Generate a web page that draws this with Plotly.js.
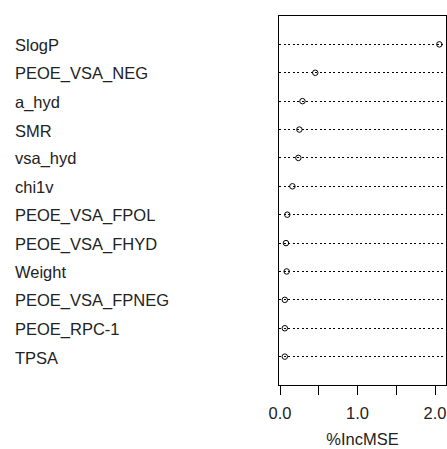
<!DOCTYPE html>
<html>
<head>
<meta charset="utf-8">
<script src="https://cdn.plot.ly/plotly-3.0.1.min.js"></script>
<style>html,body{margin:0;padding:0;background:#fff;}</style>
</head>
<body>
<div id="chart" style="width:447px;height:449px;"></div>
<script>
// Variables, top to bottom
const variables = ["SlogP","PEOE_VSA_NEG","a_hyd","SMR","vsa_hyd","chi1v","PEOE_VSA_FPOL","PEOE_VSA_FHYD","Weight","PEOE_VSA_FPNEG","PEOE_RPC-1","TPSA"];
const incMSE = [2.056, 0.455, 0.29, 0.25, 0.237, 0.16, 0.094, 0.077, 0.086, 0.062, 0.062, 0.062];
const tickValues = [0, 0.5, 1, 1.5, 2];
const tickLabels = ["0.0", "", "1.0", "", "2.0"];

const n = variables.length;
const rowPos = variables.map((_, i) => n - i);

const font = "Liberation Sans, Arial, sans-serif";

const trace = {
  x: incMSE,
  y: rowPos,
  mode: "markers",
  type: "scatter",
  marker: {symbol: "circle-open", size: 5.5, color: "#000", line: {width: 1, color: "#000"}},
  hoverinfo: "x+text",
  text: variables,
  showlegend: false
};

const annotations = variables.map((v, i) => ({
  text: v,
  xref: "paper", yref: "y",
  x: (13 - 279) / 167, y: rowPos[i],
  xanchor: "left", yanchor: "middle",
  yshift: -1,
  showarrow: false,
  font: {family: font, size: 16.5, color: "#222"}
}));

const layout = {
  width: 447, height: 449,
  margin: {l: 279, r: 1, t: 16, b: 64, pad: 0},
  paper_bgcolor: "#fff", plot_bgcolor: "#fff",
  xaxis: {
    range: [-0.013, 2.142],
    tickvals: tickValues, ticktext: tickLabels,
    ticks: "outside", ticklen: 9, tickcolor: "#000", tickwidth: 1,
    ticklabelstandoff: 4,
    showline: true, linecolor: "#000", linewidth: 1, mirror: true,
    showgrid: false, zeroline: false,
    tickfont: {family: font, size: 16.5, color: "#222"},
    title: {text: "%IncMSE", font: {family: font, size: 16.5, color: "#222"}, standoff: 12}
  },
  yaxis: {
    range: [0, n + 1],
    tickvals: rowPos, showticklabels: false, ticks: "",
    showgrid: true, gridcolor: "#000", gridwidth: 1, griddash: "2px,2.5px",
    showline: true, linecolor: "#000", linewidth: 1, mirror: true,
    zeroline: false
  },
  annotations: annotations
};

Plotly.newPlot("chart", [trace], layout, {displayModeBar: false, staticPlot: true});
</script>
</body>
</html>
